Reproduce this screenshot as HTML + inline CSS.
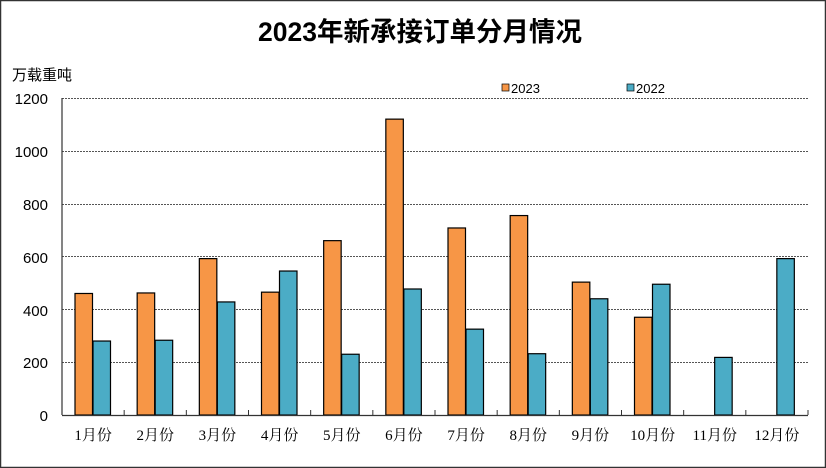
<!DOCTYPE html>
<html><head><meta charset="utf-8"><style>
body{margin:0;background:#fff}
svg{display:block;font-family:"Liberation Sans","Noto Sans CJK SC",sans-serif}
</style></head><body>
<svg width="826" height="468" xmlns="http://www.w3.org/2000/svg">
<rect x="0.5" y="0.5" width="825" height="467" fill="#fff" stroke="#333" stroke-width="1.5"/>
<text x="420" y="41" font-size="26.5" font-weight="bold" text-anchor="middle" fill="#000">2023年新承接订单分月情况</text>
<text x="12" y="80" font-size="15" fill="#000">万载重吨</text>
<g font-size="15" fill="#000" text-anchor="end">
<text x="48" y="104">1200</text><text x="48" y="157">1000</text><text x="48" y="210">800</text>
<text x="48" y="263">600</text><text x="48" y="316">400</text><text x="48" y="368">200</text><text x="48" y="421">0</text>
</g>
<g stroke="#555" stroke-dasharray="2,1" stroke-width="1">
<line x1="62" y1="98.5" x2="808" y2="98.5"/><line x1="62" y1="151.5" x2="808" y2="151.5"/>
<line x1="62" y1="204.5" x2="808" y2="204.5"/><line x1="62" y1="256.5" x2="808" y2="256.5"/>
<line x1="62" y1="309.5" x2="808" y2="309.5"/><line x1="62" y1="362.5" x2="808" y2="362.5"/>
</g>
<rect x="502" y="84" width="7" height="7" fill="#F79646" stroke="#000" stroke-width="0.7"/>
<text x="511" y="93" font-size="13">2023</text>
<rect x="627" y="84" width="7" height="7" fill="#4BACC6" stroke="#000" stroke-width="0.7"/>
<text x="636" y="93" font-size="13">2022</text>
<g id="bars" stroke="#000" stroke-width="1.2"></g>
<line x1="62" y1="98" x2="62" y2="415" stroke="#333" stroke-width="1.2"/>
<line x1="62" y1="415.5" x2="808" y2="415.5" stroke="#333" stroke-width="1.2"/>
<g id="ticks" stroke="#333"></g>
<g id="labels" font-size="15" fill="#000" text-anchor="middle" style="font-family:'Liberation Serif','Noto Serif CJK SC',serif"></g>
<script>
var a=[460,462,592,465,660,1120,708,755,503,370,null,null];
var b=[280,283,428,545,230,477,325,232,440,495,218,592];
var bars=document.getElementById('bars'),ticks=document.getElementById('ticks'),labs=document.getElementById('labels');
var ns='http://www.w3.org/2000/svg',cw=(808-62)/12,k=317/1200;
function r(x,v,c){if(v==null)return;var e=document.createElementNS(ns,'rect');var h=v*k;
e.setAttribute('x',x);e.setAttribute('y',415-h);e.setAttribute('width',17.5);e.setAttribute('height',h);e.setAttribute('fill',c);bars.appendChild(e);}
for(var i=0;i<12;i++){var x0=62+i*cw;r(x0+13,a[i],'#F79646');r(x0+31,b[i],'#4BACC6');
var t=document.createElementNS(ns,'line');t.setAttribute('x1',x0+cw);t.setAttribute('x2',x0+cw);t.setAttribute('y1',410);t.setAttribute('y2',415);ticks.appendChild(t);
var l=document.createElementNS(ns,'text');l.setAttribute('x',x0+cw/2);l.setAttribute('y',440);l.textContent=(i+1)+'月份';labs.appendChild(l);}
</script>
</svg>
</body></html>
